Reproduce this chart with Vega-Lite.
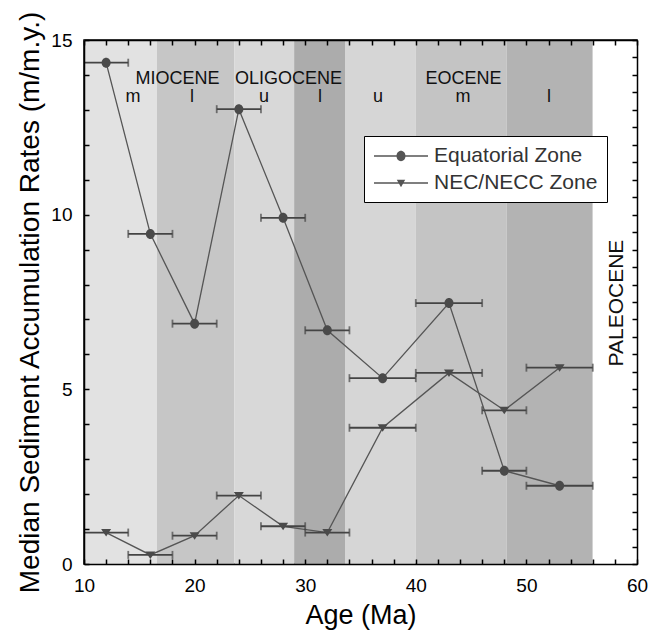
{
  "$schema": "https://vega.github.io/schema/vega-lite/v6.json",
  "width": 553,
  "height": 524,
  "autosize": "none",
  "padding": {"left": 84, "top": 40, "right": 13, "bottom": 70},
  "background": "white",
  "config": {
    "view": {"stroke": "black", "strokeWidth": 1.5},
    "font": "Liberation Sans",
    "axis": {
      "grid": false,
      "domainColor": "black",
      "domainWidth": 1.5,
      "tickColor": "black",
      "tickWidth": 1.5,
      "tickSize": -5,
      "labelColor": "black",
      "titleColor": "black",
      "labelFont": "Liberation Sans",
      "titleFont": "Liberation Sans",
      "labelFontSize": 19,
      "titleFontSize": 27,
      "titleFontWeight": "normal",
      "labelFlush": false,
      "labelOverlap": false,
      "labelBound": false
    }
  },
  "datasets": {
    "bands": [
      {"band": "b1", "start": 10, "end": 16.6},
      {"band": "b2", "start": 16.6, "end": 23.6},
      {"band": "b3", "start": 23.6, "end": 29.0},
      {"band": "b4", "start": 29.0, "end": 33.6},
      {"band": "b5", "start": 33.6, "end": 40.0},
      {"band": "b6", "start": 40.0, "end": 48.2},
      {"band": "b7", "start": 48.2, "end": 56.0},
      {"band": "b8", "start": 56.0, "end": 60.0}
    ],
    "points": [
      {"zone": "Equatorial Zone", "age": 12, "rate": 14.35, "lo": 10, "hi": 14},
      {"zone": "Equatorial Zone", "age": 16, "rate": 9.45, "lo": 14, "hi": 18},
      {"zone": "Equatorial Zone", "age": 20, "rate": 6.88, "lo": 18, "hi": 22},
      {"zone": "Equatorial Zone", "age": 24, "rate": 13.02, "lo": 22, "hi": 26},
      {"zone": "Equatorial Zone", "age": 28, "rate": 9.91, "lo": 26, "hi": 30},
      {"zone": "Equatorial Zone", "age": 32, "rate": 6.69, "lo": 30, "hi": 34},
      {"zone": "Equatorial Zone", "age": 37, "rate": 5.32, "lo": 34, "hi": 40},
      {"zone": "Equatorial Zone", "age": 43, "rate": 7.47, "lo": 40, "hi": 46},
      {"zone": "Equatorial Zone", "age": 48, "rate": 2.67, "lo": 46, "hi": 50},
      {"zone": "Equatorial Zone", "age": 53, "rate": 2.24, "lo": 50, "hi": 56},
      {"zone": "NEC/NECC Zone", "age": 12, "rate": 0.9, "lo": 10, "hi": 14},
      {"zone": "NEC/NECC Zone", "age": 16, "rate": 0.26, "lo": 14, "hi": 18},
      {"zone": "NEC/NECC Zone", "age": 20, "rate": 0.81, "lo": 18, "hi": 22},
      {"zone": "NEC/NECC Zone", "age": 24, "rate": 1.96, "lo": 22, "hi": 26},
      {"zone": "NEC/NECC Zone", "age": 28, "rate": 1.08, "lo": 26, "hi": 30},
      {"zone": "NEC/NECC Zone", "age": 32, "rate": 0.9, "lo": 30, "hi": 34},
      {"zone": "NEC/NECC Zone", "age": 37, "rate": 3.9, "lo": 34, "hi": 40},
      {"zone": "NEC/NECC Zone", "age": 43, "rate": 5.47, "lo": 40, "hi": 46},
      {"zone": "NEC/NECC Zone", "age": 48, "rate": 4.4, "lo": 46, "hi": 50},
      {"zone": "NEC/NECC Zone", "age": 53, "rate": 5.62, "lo": 50, "hi": 56}
    ],
    "labels": [
      {"text": "MIOCENE", "level": "epoch", "age": 18.45, "rate": 13.89},
      {"text": "OLIGOCENE", "level": "epoch", "age": 28.49, "rate": 13.89},
      {"text": "EOCENE", "level": "epoch", "age": 44.31, "rate": 13.89},
      {"text": "m", "level": "sub", "age": 14.43, "rate": 13.37},
      {"text": "l", "level": "sub", "age": 19.76, "rate": 13.37},
      {"text": "u", "level": "sub", "age": 26.27, "rate": 13.37},
      {"text": "l", "level": "sub", "age": 31.34, "rate": 13.37},
      {"text": "u", "level": "sub", "age": 36.58, "rate": 13.37},
      {"text": "m", "level": "sub", "age": 44.27, "rate": 13.37},
      {"text": "l", "level": "sub", "age": 52.04, "rate": 13.37},
      {"text": "PALEOCENE", "level": "side", "age": 58.2, "rate": 7.47}
    ]
  },
  "resolve": {
    "scale": {"shape": "independent"},
    "axis": {"x": "independent", "y": "independent"}
  },
  "layer": [
    {
      "data": {"name": "bands"},
      "mark": {"type": "rect", "strokeWidth": 0},
      "encoding": {
        "x": {"field": "start", "type": "quantitative", "scale": {"domain": [10, 60], "nice": false, "zero": false}, "axis": null},
        "x2": {"field": "end"},
        "fill": {
          "field": "band", "type": "nominal", "legend": null,
          "scale": {"domain": ["b1", "b2", "b3", "b4", "b5", "b6", "b7", "b8"],
                    "range": ["#e2e2e2", "#c6c6c6", "#d8d8d8", "#acacac", "#d6d6d6", "#c4c4c4", "#b3b3b3", "#ffffff"]}
        }
      }
    },
    {
      "data": {"name": "points"},
      "mark": {"type": "line", "color": "#555555", "strokeWidth": 1.3},
      "encoding": {
        "x": {"field": "age", "type": "quantitative", "scale": {"domain": [10, 60], "nice": false, "zero": false},
              "axis": {"orient": "bottom", "zindex": 1, "title": "Age (Ma)", "values": [10,12,14,16,18,20,22,24,26,28,30,32,34,36,38,40,42,44,46,48,50,52,54,56,58,60],
                       "labelExpr": "datum.value % 10 == 0 ? datum.label : ''", "labelPadding": 17, "titlePadding": 7}},
        "y": {"field": "rate", "type": "quantitative", "scale": {"domain": [0, 15], "nice": false, "zero": false},
              "axis": {"orient": "left", "zindex": 1, "title": "Median Sediment Accumulation Rates (m/m.y.)", "titleFontSize": 28, "values": [0,1,2,3,4,5,6,7,8,9,10,11,12,13,14,15],
                       "labelExpr": "datum.value % 5 == 0 ? datum.label : ''", "labelPadding": 17, "titlePadding": 6}},
        "detail": {"field": "zone", "type": "nominal"}
      }
    },
    {
      "data": {"name": "points"},
      "mark": {"type": "errorbar", "rule": {"color": "#444444", "strokeWidth": 1.8}, "ticks": {"size": 8, "thickness": 1.8, "color": "#444444"}},
      "encoding": {
        "x": {"field": "lo", "type": "quantitative", "axis": null},
        "x2": {"field": "hi"},
        "y": {"field": "rate", "type": "quantitative", "axis": null}
      }
    },
    {
      "data": {"name": "points"},
      "mark": {"type": "point", "filled": true, "color": "#4a4a4a", "opacity": 1, "size": 100},
      "encoding": {
        "x": {"field": "age", "type": "quantitative", "axis": null},
        "y": {"field": "rate", "type": "quantitative", "axis": null},
        "shape": {"field": "zone", "type": "nominal", "legend": null,
                  "scale": {"domain": ["Equatorial Zone", "NEC/NECC Zone"], "range": ["M-0.9,0A0.9,1 0 1,1 0.9,0A0.9,1 0 1,1 -0.9,0Z", "M-1,-0.7L1,-0.7L0,0.8Z"]}}
      }
    },
    {
      "data": {"name": "labels"},
      "transform": [{"filter": "datum.level != 'side'"}],
      "mark": {"type": "text", "fontSize": 18, "color": "#111111", "align": "center", "baseline": "middle"},
      "encoding": {
        "x": {"field": "age", "type": "quantitative", "axis": null},
        "y": {"field": "rate", "type": "quantitative", "axis": null},
        "text": {"field": "text"}
      }
    },
    {
      "data": {"name": "labels"},
      "transform": [{"filter": "datum.level == 'side'"}],
      "mark": {"type": "text", "fontSize": 21, "color": "#111111", "align": "center", "baseline": "middle", "angle": 270},
      "encoding": {
        "x": {"field": "age", "type": "quantitative", "axis": null},
        "y": {"field": "rate", "type": "quantitative", "axis": null},
        "text": {"field": "text"}
      }
    },
    {
      "data": {"name": "points"},
      "transform": [{"filter": "datum.rate < -100"}],
      "mark": {"type": "point", "filled": true, "color": "#555555", "opacity": 1},
      "encoding": {
        "x": {"field": "age", "type": "quantitative", "axis": null},
        "y": {"field": "rate", "type": "quantitative", "axis": null},
        "shape": {
          "field": "zone", "type": "nominal",
          "scale": {"domain": ["Equatorial Zone", "NEC/NECC Zone"],
                    "range": ["M-2.7,-0.07H2.7V0.07H-2.7ZM-0.45,0A0.45,0.52 0 1,1 0.45,0A0.45,0.52 0 1,1 -0.45,0Z",
                              "M-2.7,-0.07H2.7V0.07H-2.7ZM-0.42,-0.32L0.42,-0.32L0,0.42Z"]},
          "legend": {
            "orient": "none", "legendX": 280, "legendY": 96, "title": null,
            "symbolSize": 400, "symbolOffset": 17, "symbolFillColor": "#555555", "symbolStrokeColor": "#555555",
            "labelFontSize": 21, "labelFont": "Liberation Sans", "labelColor": "#333333",
            "labelOffset": 22, "labelLimit": 400, "padding": 9, "rowPadding": 6, "strokeColor": "black", "fillColor": "white"
          }
        }
      }
    },
    {
      "data": {"name": "points"},
      "mark": {"type": "point", "opacity": 0},
      "encoding": {
        "x": {"field": "age", "type": "quantitative",
              "axis": {"orient": "top", "zindex": 1, "title": null, "labels": false, "values": [10,12,14,16,18,20,22,24,26,28,30,32,34,36,38,40,42,44,46,48,50,52,54,56,58,60]}},
        "y": {"field": "rate", "type": "quantitative",
              "axis": {"orient": "right", "zindex": 1, "title": null, "labels": false, "values": [0,0.5,1,1.5,2,2.5,3,3.5,4,4.5,5,5.5,6,6.5,7,7.5,8,8.5,9,9.5,10,10.5,11,11.5,12,12.5,13,13.5,14,14.5,15]}}
      }
    }
  ]
}
